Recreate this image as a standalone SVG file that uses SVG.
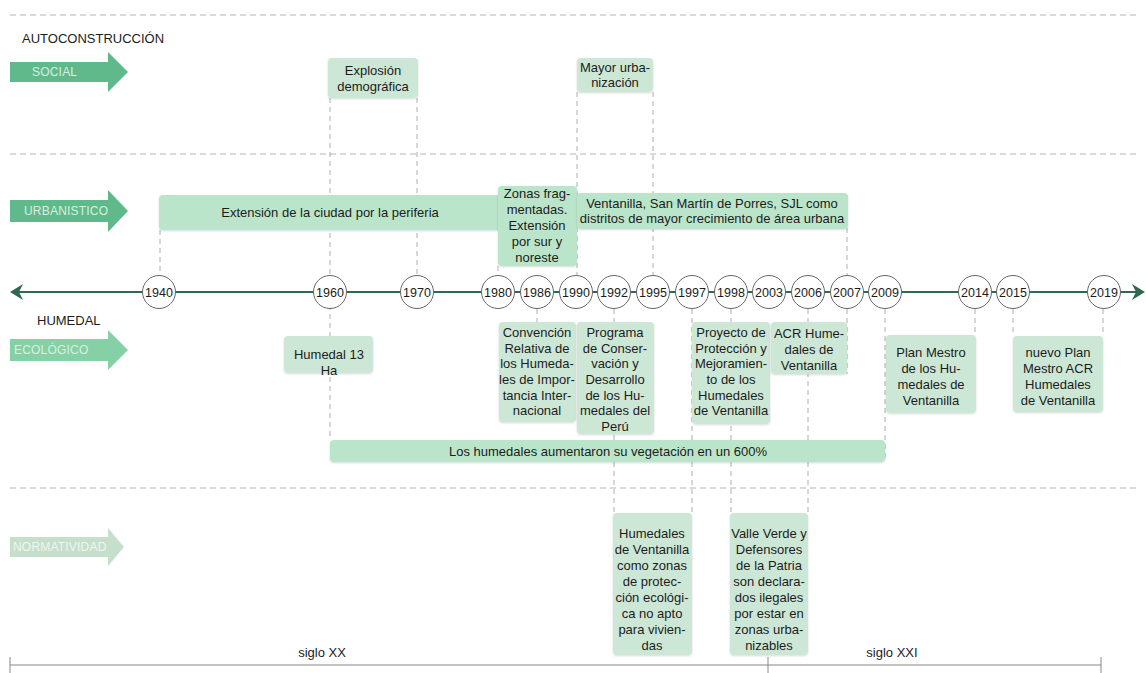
<svg xmlns="http://www.w3.org/2000/svg" width="1146" height="673" viewBox="0 0 1146 673">
<defs>
<style>
text{font-family:"Liberation Sans",Arial,sans-serif;font-size:13px;fill:#1c1c1c;}
.c{text-anchor:middle;}
.yt{font-size:12.5px;}
.box{fill:#cde7d6;}
.bar{fill:#bbe5ca;}
.sep{stroke:#b5b5b5;stroke-width:1;stroke-dasharray:6,4;fill:none;}
.vd{stroke:#9a9a9a;stroke-width:0.8;stroke-dasharray:5,4;fill:none;}
.yr{fill:#fff;stroke:#666;stroke-width:1;}
.al{font-size:12px;fill:#d6f0e0;letter-spacing:0.2px;}
.siglo{stroke:#888;stroke-width:1;fill:none;}
</style>
<filter id="sh" x="-10%" y="-10%" width="120%" height="130%">
<feDropShadow dx="0" dy="1" stdDeviation="1" flood-color="#000" flood-opacity="0.15"/>
</filter>
</defs>
<rect width="1146" height="673" fill="#fff"/>

<!-- separators -->
<g id="separators">
<line class="sep" x1="10" y1="15" x2="1140" y2="15"/>
<line class="sep" x1="10" y1="154" x2="1140" y2="154"/>
<line class="sep" x1="10" y1="488" x2="1140" y2="488"/>
</g>

<!-- connectors -->
<g id="connectors">
<line class="vd" x1="160" y1="230" x2="160" y2="275"/>
<line class="vd" x1="330" y1="98" x2="330" y2="440"/>
<line class="vd" x1="417" y1="98" x2="417" y2="275"/>
<line class="vd" x1="498" y1="266" x2="498" y2="275"/>
<line class="vd" x1="537" y1="309" x2="537" y2="322"/>
<line class="vd" x1="577" y1="92" x2="577" y2="275"/>
<line class="vd" x1="653" y1="92" x2="653" y2="275"/>
<line class="vd" x1="614" y1="309" x2="614" y2="513"/>
<line class="vd" x1="692" y1="309" x2="692" y2="513"/>
<line class="vd" x1="731" y1="309" x2="731" y2="513"/>
<line class="vd" x1="808" y1="309" x2="808" y2="513"/>
<line class="vd" x1="847" y1="228" x2="847" y2="275"/>
<line class="vd" x1="847" y1="309" x2="847" y2="374"/>
<line class="vd" x1="885" y1="309" x2="885" y2="462"/>
<line class="vd" x1="975" y1="309" x2="975" y2="335"/>
<line class="vd" x1="1013" y1="309" x2="1013" y2="336"/>
<line class="vd" x1="1103" y1="309" x2="1103" y2="336"/>
</g>

<!-- headings and category arrows -->
<g id="autoconstruccion"><text x="22" y="43">AUTOCONSTRUCCIÓN</text></g>
<g id="humedal-label"><text x="37" y="325">HUMEDAL</text></g>

<g id="arrow-social">
<polygon points="10,62 108,62 108,52 128,72 108,92 108,82 10,82" fill="#5fb98a"/>
<text class="al" x="32" y="76">SOCIAL</text>
</g>
<g id="arrow-urbanistico">
<polygon points="10,200 108,200 108,190 128,211 108,232 108,222 10,222" fill="#5fb98a"/>
<text class="al" x="24" y="215">URBANISTICO</text>
</g>
<g id="arrow-ecologico">
<polygon points="10,339 108,339 108,330 128,350 108,370 108,361 10,361" fill="#86d0a6"/>
<text class="al" x="14" y="354">ECOLÓGICO</text>
</g>
<g id="arrow-normativo">
<polygon points="10,537 108,537 108,528 124,547 108,566 108,557 10,557" fill="#c6dfcc"/>
<text class="al" x="13" y="551" style="fill:#eef6f0">NORMATIVIDAD</text>
</g>

<!-- timeline -->
<g id="timeline">
<line x1="16" y1="292" x2="1138" y2="292" stroke="#2f6a50" stroke-width="2"/>
<polygon points="10,292 23,284 19,292 23,300" fill="#2f6a50"/>
<polygon points="1145,292 1132,284 1136,292 1132,300" fill="#2f6a50"/>
</g>

<g id="y1940"><circle class="yr" cx="159" cy="292" r="16.5"/><text class="c yt" x="159" y="296.5">1940</text></g>
<g id="y1960"><circle class="yr" cx="330" cy="292" r="16.5"/><text class="c yt" x="330" y="296.5">1960</text></g>
<g id="y1970"><circle class="yr" cx="417" cy="292" r="16.5"/><text class="c yt" x="417" y="296.5">1970</text></g>
<g id="y1980"><circle class="yr" cx="498" cy="292" r="16.5"/><text class="c yt" x="498" y="296.5">1980</text></g>
<g id="y1986"><circle class="yr" cx="537" cy="292" r="16.5"/><text class="c yt" x="537" y="296.5">1986</text></g>
<g id="y1990"><circle class="yr" cx="576" cy="292" r="16.5"/><text class="c yt" x="576" y="296.5">1990</text></g>
<g id="y1992"><circle class="yr" cx="614" cy="292" r="16.5"/><text class="c yt" x="614" y="296.5">1992</text></g>
<g id="y1995"><circle class="yr" cx="653" cy="292" r="16.5"/><text class="c yt" x="653" y="296.5">1995</text></g>
<g id="y1997"><circle class="yr" cx="692" cy="292" r="16.5"/><text class="c yt" x="692" y="296.5">1997</text></g>
<g id="y1998"><circle class="yr" cx="731" cy="292" r="16.5"/><text class="c yt" x="731" y="296.5">1998</text></g>
<g id="y2003"><circle class="yr" cx="769" cy="292" r="16.5"/><text class="c yt" x="769" y="296.5">2003</text></g>
<g id="y2006"><circle class="yr" cx="808" cy="292" r="16.5"/><text class="c yt" x="808" y="296.5">2006</text></g>
<g id="y2007"><circle class="yr" cx="847" cy="292" r="16.5"/><text class="c yt" x="847" y="296.5">2007</text></g>
<g id="y2009"><circle class="yr" cx="885" cy="292" r="16.5"/><text class="c yt" x="885" y="296.5">2009</text></g>
<g id="y2014"><circle class="yr" cx="975" cy="292" r="16.5"/><text class="c yt" x="975" y="296.5">2014</text></g>
<g id="y2015"><circle class="yr" cx="1013" cy="292" r="16.5"/><text class="c yt" x="1013" y="296.5">2015</text></g>
<g id="y2019"><circle class="yr" cx="1104" cy="292" r="16.5"/><text class="c yt" x="1104" y="296.5">2019</text></g>

<!-- social row -->
<g id="explosion">
<rect class="box" filter="url(#sh)" x="328" y="58" width="90" height="40" rx="4"/>
<text class="c" x="373" y="75">Explosión</text>
<text class="c" x="373" y="91">demográfica</text>
</g>
<g id="mayor-urbanizacion">
<rect class="box" filter="url(#sh)" x="577" y="58" width="76" height="34" rx="4"/>
<text class="c" x="615" y="72">Mayor urba-</text>
<text class="c" x="615" y="87">nización</text>
</g>

<!-- urbanistic row -->
<g id="extension">
<rect class="bar" filter="url(#sh)" x="159" y="195" width="345" height="35" rx="4"/>
<text class="c" x="330" y="217">Extensión de la ciudad por la periferia</text>
</g>
<g id="zonas">
<rect class="bar" filter="url(#sh)" x="498" y="186" width="79" height="80" rx="4"/>
<text class="c" x="537" y="198">Zonas frag-</text>
<text class="c" x="537" y="214">mentadas.</text>
<text class="c" x="537" y="230">Extensión</text>
<text class="c" x="537" y="246">por sur y</text>
<text class="c" x="537" y="262">noreste</text>
</g>
<g id="ventanilla-sjl">
<rect class="bar" filter="url(#sh)" x="577" y="193" width="271" height="36" rx="4"/>
<text class="c" x="712" y="208">Ventanilla, San Martín de Porres, SJL como</text>
<text class="c" x="712" y="223">distritos de mayor crecimiento de área urbana</text>
</g>

<!-- ecological row -->
<g id="humedal13">
<rect class="box" filter="url(#sh)" x="284" y="336" width="89" height="37" rx="4"/>
<text class="c" x="329" y="359">Humedal 13</text>
<text class="c" x="329" y="375">Ha</text>
</g>
<g id="convencion">
<rect class="box" filter="url(#sh)" x="499" y="322" width="77" height="100" rx="4"/>
<text class="c" x="537" y="337">Convención</text>
<text class="c" x="537" y="353">Relativa de</text>
<text class="c" x="537" y="368">los Humeda-</text>
<text class="c" x="537" y="384">les de Impor-</text>
<text class="c" x="537" y="400">tancia Inter-</text>
<text class="c" x="537" y="415">nacional</text>
</g>
<g id="programa">
<rect class="box" filter="url(#sh)" x="577" y="322" width="77" height="112" rx="4"/>
<text class="c" x="615" y="337">Programa</text>
<text class="c" x="615" y="353">de Conser-</text>
<text class="c" x="615" y="368">vación y</text>
<text class="c" x="615" y="384">Desarrollo</text>
<text class="c" x="615" y="400">de los Hu-</text>
<text class="c" x="615" y="415">medales del</text>
<text class="c" x="615" y="431">Perú</text>
</g>
<g id="proyecto">
<rect class="box" filter="url(#sh)" x="692" y="322" width="78" height="102" rx="4"/>
<text class="c" x="731" y="337">Proyecto de</text>
<text class="c" x="731" y="353">Protección y</text>
<text class="c" x="731" y="368">Mejoramien-</text>
<text class="c" x="731" y="384">to de los</text>
<text class="c" x="731" y="400">Humedales</text>
<text class="c" x="731" y="415">de Ventanilla</text>
</g>
<g id="acr">
<rect class="box" filter="url(#sh)" x="771" y="322" width="76" height="52" rx="4"/>
<text class="c" x="809" y="338">ACR Hume-</text>
<text class="c" x="809" y="354">dales de</text>
<text class="c" x="809" y="370">Ventanilla</text>
</g>
<g id="plan-maestro">
<rect class="box" filter="url(#sh)" x="886" y="335" width="90" height="78" rx="4"/>
<text class="c" x="931" y="357">Plan Mestro</text>
<text class="c" x="931" y="373">de los Hu-</text>
<text class="c" x="931" y="389">medales de</text>
<text class="c" x="931" y="405">Ventanilla</text>
</g>
<g id="nuevo-plan">
<rect class="box" filter="url(#sh)" x="1013" y="336" width="90" height="76" rx="4"/>
<text class="c" x="1058" y="357">nuevo Plan</text>
<text class="c" x="1058" y="373">Mestro ACR</text>
<text class="c" x="1058" y="389">Humedales</text>
<text class="c" x="1058" y="405">de Ventanilla</text>
</g>
<g id="vegetacion">
<rect class="bar" filter="url(#sh)" x="330" y="440" width="555" height="22" rx="4"/>
<text class="c" x="608" y="456">Los humedales aumentaron su vegetación en un 600%</text>
</g>

<!-- normative row -->
<g id="zonas-proteccion">
<rect class="box" filter="url(#sh)" x="613" y="513" width="79" height="142" rx="4"/>
<text class="c" x="652" y="538">Humedales</text>
<text class="c" x="652" y="554">de Ventanilla</text>
<text class="c" x="652" y="570">como zonas</text>
<text class="c" x="652" y="586">de protec-</text>
<text class="c" x="652" y="602">ción ecológi-</text>
<text class="c" x="652" y="618">ca no apto</text>
<text class="c" x="652" y="634">para vivien-</text>
<text class="c" x="652" y="650">das</text>
</g>
<g id="valle-verde">
<rect class="box" filter="url(#sh)" x="730" y="513" width="78" height="142" rx="4"/>
<text class="c" x="769" y="538">Valle Verde y</text>
<text class="c" x="769" y="554">Defensores</text>
<text class="c" x="769" y="570">de la Patria</text>
<text class="c" x="769" y="586">son declara-</text>
<text class="c" x="769" y="602">dos ilegales</text>
<text class="c" x="769" y="618">por estar en</text>
<text class="c" x="769" y="634">zonas urba-</text>
<text class="c" x="769" y="650">nizables</text>
</g>

<!-- centuries -->
<g id="siglos">
<line class="siglo" x1="10" y1="665" x2="1101" y2="665"/>
<line class="siglo" x1="10" y1="657" x2="10" y2="673"/>
<line class="siglo" x1="768" y1="657" x2="768" y2="673" stroke="#555"/>
<line class="siglo" x1="1101" y1="657" x2="1101" y2="673"/>
<text class="c" x="322" y="657">siglo XX</text>
<text class="c" x="892" y="657">siglo XXI</text>
</g>
</svg>
